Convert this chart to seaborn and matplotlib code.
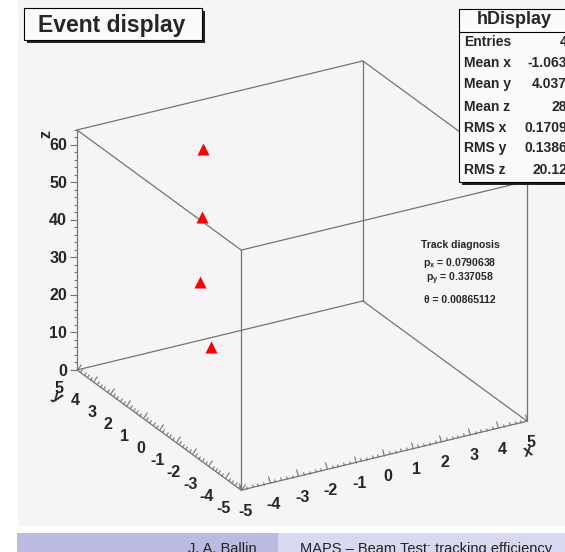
import numpy as np
import pandas as pd
import matplotlib
matplotlib.use("Agg")
import matplotlib.pyplot as plt
import seaborn as sns
from matplotlib.markers import MarkerStyle, TICKUP
from matplotlib.patches import Rectangle
from matplotlib.transforms import Affine2D
from mpl_toolkits.mplot3d import proj3d

# hits of the event, one per plane
hit_x = [-0.78, -1.15, -1.21, -1.16]
hit_y = [4.17, 4.21, 3.97, 4.02]
hit_z = [1, 19, 37, 55]

x_range = [-5, 5]
y_range = [-5, 5]
z_range = [0, 64]
x_major = list(range(-5, 6))
y_major = list(range(-5, 6))
z_major = [0, 10, 20, 30, 40, 50, 60]

stat_names = ["Entries", "Mean x", "Mean y", "Mean z", "RMS x", "RMS y", "RMS z"]
stat_values = ["4", "-1.063", "4.037", "28", "0.1709", "0.1386", "20.12"]

diag_lines = ["Track diagnosis", r"p$_{x}$ = 0.0790638", r"p$_{y}$ = 0.337058", "θ = 0.00865112"]

hits = pd.DataFrame({"x": hit_x, "y": hit_y, "z": hit_z})

sns.set_style("white")
plt.rcParams["font.family"] = ["Liberation Sans", "DejaVu Sans"]
plt.rcParams["mathtext.fontset"] = "custom"
plt.rcParams["mathtext.rm"] = "Liberation Sans:bold"
plt.rcParams["mathtext.default"] = "rm"

BG = "#f6f4f7"
EDGE = "#747474"
RED = sns.color_palette(["#ff0000"])[0]

W, H = 565, 552
fig = plt.figure(figsize=(W / 100, H / 100), dpi=100, facecolor="white")


def rect_px(x0, y0, x1, y1, **kw):
    fig.patches.append(Rectangle((x0 / W, 1 - y1 / H), (x1 - x0) / W, (y1 - y0) / H,
                                 transform=fig.transFigure, **kw))


def text_px(x, y, s, **kw):
    fig.text(x / W, 1 - y / H, s, **kw)


# canvas + slide footer
rect_px(18, 0, W, 526, facecolor=BG, edgecolor="none", zorder=-2)
rect_px(17, 533, 278, H, facecolor="#bbbbe2", edgecolor="none", zorder=-2)
rect_px(278, 533, W, H, facecolor="#d8d8f2", edgecolor="none", zorder=-2)
text_px(257, 553, "J. A. Ballin", ha="right", va="baseline", fontsize=10.5, color="#222222")
text_px(300, 553, "MAPS – Beam Test: tracking efficiency", ha="left", va="baseline",
        fontsize=10.5, color="#222222")

# 3D frame
ax = fig.add_axes([0, 0, 1, 1], projection="3d", computed_zorder=False)
ax.set_proj_type("ortho")
ax.view_init(elev=24.85, azim=-119.87)
ax.set_box_aspect((329.6, 329.6, 264.5))
ax.set_xlim(*x_range)
ax.set_ylim(*y_range)
ax.set_zlim(*z_range)
ax.set_axis_off()
ax.patch.set_facecolor("none")
ax.set_zorder(1)


def to_px(x, y, z):
    px, py, _ = proj3d.proj_transform(x, y, z, ax.get_proj())
    return ax.transData.transform((float(px), float(py)))


# fit the projected box onto the screenshot frame
A_T = np.array([77.0, H - 370.0])
C_T = np.array([527.0, H - 181.0])
size = 540.0
ax.set_position([20 / W, 0, size / W, size / H])
fig.canvas.draw()
a0, c0 = to_px(x_range[0], y_range[1], z_range[0]), to_px(x_range[1], y_range[0], z_range[1])
size *= np.hypot(*(C_T - A_T)) / np.hypot(*(c0 - a0))
ax.set_position([20 / W, 0, size / W, size / H])
fig.canvas.draw()
shift = A_T - to_px(x_range[0], y_range[1], z_range[0])
ax.set_position([(20 + shift[0]) / W, shift[1] / H, size / W, size / H])
fig.canvas.draw()

# 12 box edges
for xa in x_range:
    for ya in y_range:
        ax.plot([xa, xa], [ya, ya], z_range, color=EDGE, lw=0.9, zorder=2)
for xa in x_range:
    for za in z_range:
        ax.plot([xa, xa], y_range, [za, za], color=EDGE, lw=0.9, zorder=2)
for ya in y_range:
    for za in z_range:
        ax.plot(x_range, [ya, ya], [za, za], color=EDGE, lw=0.9, zorder=2)


def screen_angle(p0, p1):
    d = to_px(*p1) - to_px(*p0)
    return np.degrees(np.arctan2(d[1], d[0]))


ang_x = screen_angle((-5, -5, 0), (5, -5, 0))
ang_y = screen_angle((-5, 5, 0), (-5, -5, 0))


def ticks(xs, ys, zs, angle, length):
    ax.plot(xs, ys, zs, ls="none",
            marker=MarkerStyle(TICKUP, transform=Affine2D().rotate_deg(angle)),
            ms=length, mew=0.8, mec=EDGE, zorder=2)


xy_minor = [v for v in np.round(np.arange(-5, 5.01, 0.2), 1) if v not in x_major]
z_minor = [v for v in range(0, 65, 2) if v % 10]

ticks(x_major, [-5] * len(x_major), [0] * len(x_major), ang_x, 5)
ticks(xy_minor, [-5] * len(xy_minor), [0] * len(xy_minor), ang_x, 2.5)
ticks([-5] * len(y_major), y_major, [0] * len(y_major), ang_y, 5)
ticks([-5] * len(xy_minor), xy_minor, [0] * len(xy_minor), ang_y, 2.5)
ticks([-5] * len(z_major), [5] * len(z_major), z_major, 90, 5)
ticks([-5] * len(z_minor), [5] * len(z_minor), z_minor, 90, 2.5)


def label3d(x, y, z, s, dx, dy, **kw):
    # place at the projected point, offset in pixels (dy > 0 goes down)
    px, py = to_px(x, y, z)
    fig.text((px + dx) / W, (py - dy) / H, s, fontweight="bold", zorder=3, **kw)


for v in x_major:
    label3d(v, -5, 0, str(v), 4, 21, ha="center", va="center", fontsize=11.5)
for v in y_major:
    label3d(-5, v, 0, str(v), -18, 18, ha="center", va="center", fontsize=11.5)
for v in z_major:
    label3d(-5, 5, v, str(v), -10, 1, ha="right", va="center", fontsize=11.5)

label3d(-5, 5, 64, "z", -31, 4, rotation=90, ha="center", va="center", fontsize=11.5)
label3d(-5, 5, 0, "y", -20, 27, rotation=ang_y, ha="center", va="center", fontsize=11.5)
label3d(5, -5, 0, "x", 1, 30, rotation=ang_x, ha="center", va="center", fontsize=11.5)

# hits
ax.scatter(hits["x"], hits["y"], hits["z"], marker="^", s=75, color=RED,
           linewidths=0, depthshade=False, zorder=4)

# title box
rect_px(27, 11, 205, 43, facecolor="#222222", edgecolor="none", zorder=3)
rect_px(24, 8, 202, 40, facecolor="#fbfafb", edgecolor="black", lw=0.8, zorder=3)
text_px(111.5, 32, "Event display", ha="center", va="baseline", fontsize=16.5,
        fontweight="bold", zorder=4)

# stats box
rect_px(462, 12, W + 10, 185, facecolor="#222222", edgecolor="none", zorder=3)
rect_px(459, 9, W + 8, 182, facecolor="#fbfafb", edgecolor="black", lw=0.8, zorder=3)
fig.add_artist(plt.Line2D([459 / W, 1], [1 - 32 / H, 1 - 32 / H], color="black", lw=0.8, zorder=4))
text_px(514, 20, "hDisplay", ha="center", va="center", fontsize=13, fontweight="bold", zorder=4)
row_y = [42, 63, 84, 107, 128, 148, 170]
for name, val, yy in zip(stat_names, stat_values, row_y):
    text_px(464, yy, name, ha="left", va="center", fontsize=10, fontweight="bold", zorder=4)
    text_px(567, yy, val, ha="right", va="center", fontsize=10, fontweight="bold", zorder=4)

# track diagnosis
for s, yy in zip(diag_lines, [245, 263, 279, 300]):
    text_px(460, yy, s, ha="center", va="center", fontsize=7.5, fontweight="bold", zorder=4)

fig.savefig("out.png", dpi=100, facecolor=fig.get_facecolor())
